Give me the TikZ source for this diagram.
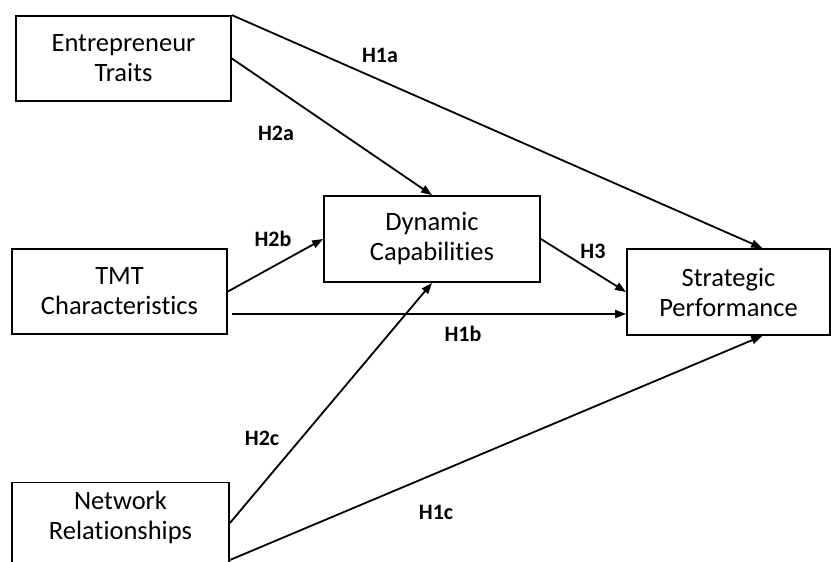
\documentclass[tikz,border=0pt]{standalone}
\usepackage{fontspec}
\setmainfont{Carlito}[Ligatures=NoCommon]
\usetikzlibrary{arrows.meta,calc}
\begin{document}
\begin{tikzpicture}[x=1pt,y=-1pt,
  box/.style={draw,line width=1.8pt,align=center,inner sep=0pt,
    font=\fontsize{26.5}{30}\selectfont},
  hyp/.style={font=\bfseries\fontsize{22}{24}\selectfont,inner sep=0pt},
  link/.style={line width=1.8pt,-{Triangle[length=11pt,width=8pt]}}]
\useasboundingbox (0,0) rectangle (831,562);
\begin{scope}
\clip (0,0) rectangle (831,562);
\node[box,minimum width=215pt,minimum height=85pt] (ET) at (123.5,58.5) {Entrepreneur\\Traits};
\node[box,minimum width=215pt,minimum height=85pt] (TMT) at (119.5,291.5) {TMT\\Characteristics};
\node[box,minimum width=217pt,minimum height=85pt] (NR) at (120.5,525)
  {\raisebox{0pt}[30pt][30pt]{\begin{tabular}{@{}c@{}}Network\\Relationships\end{tabular}}};
\node[box,minimum width=216pt,minimum height=86pt] (DC) at (432,239) {Dynamic\\Capabilities};
\node[box,minimum width=203pt,minimum height=86pt] (SP) at (728.5,292) {Strategic\\Performance};
\coordinate (SPn) at ($(SP.north west)!0.665!(SP.north east)$);
\coordinate (SPs) at ($(SP.south west)!0.665!(SP.south east)$);
\draw[link] (ET.north east) -- (SPn);
\draw[link] (ET.east) -- (DC.north);
\draw[link] (TMT.east) -- (DC.west);
\draw[link] ($(TMT.east)+(4,22.5)$) -- (SP.west |- {$(TMT.east)+(4,22.5)$});
\draw[link] (DC.east) -- (SP.west);
\draw[link] ($(NR.east)+(0,-2)$) -- (DC.south);
\draw[link] ($(NR.east)+(0,35)$) -- (SPs);
\end{scope}
\node[hyp] (h1a) at (380,55) {H1a};
\node[hyp] (h2a) at (276,133) {H2a};
\node[hyp] (h2b) at (273,239) {H2b};
\node[hyp] (h3) at (593,251) {H3};
\node[hyp] (h1b) at (463,334) {H1b};
\node[hyp] (h2c) at (262,438) {H2c};
\node[hyp] (h1c) at (436,512) {H1c};
\end{tikzpicture}
\end{document}
